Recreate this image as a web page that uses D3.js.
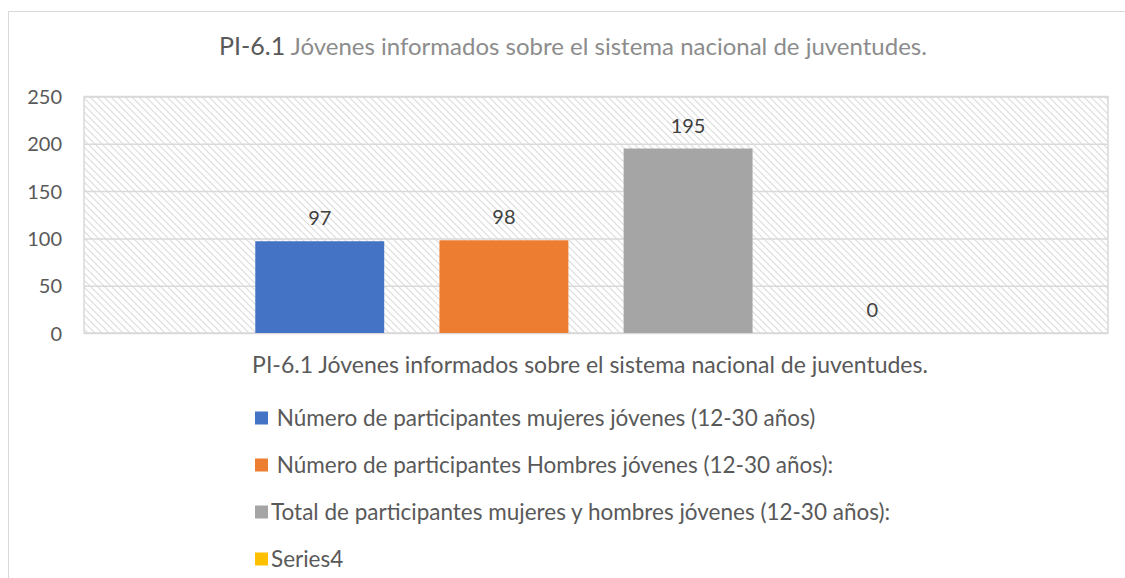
<!DOCTYPE html>
<html>
<head>
<meta charset="utf-8">
<script src="https://cdn.jsdelivr.net/npm/d3@7"></script>
<style>
  html, body { margin: 0; padding: 0; background: #fff; }
  svg { display: block; font-family: Lato, "Open Sans", sans-serif; }
</style>
</head>
<body>
<svg id="chart" width="1125" height="578"></svg>
<script>
// Chart data
const categories = ["PI-6.1 Jóvenes informados sobre el sistema nacional de juventudes."];
const seriesNames = [
  " Número de participantes mujeres jóvenes (12-30 años)",
  " Número de participantes Hombres jóvenes (12-30 años):",
  "Total de participantes mujeres y hombres jóvenes (12-30 años):",
  "Series4"
];
const seriesValues = [97, 98, 195, 0];
const seriesColors = ["#4472C4", "#ED7D31", "#A5A5A5", "#FFC000"];
const yTicks = [0, 50, 100, 150, 200, 250];
const titleCode = "PI-6.1";
const titleRest = " Jóvenes informados sobre el sistema nacional de juventudes.";

const svg = d3.select("#chart");
const W = 1125, H = 578;
const plot = { left: 84, right: 1108, top: 96.5, bottom: 333 };

// Chart frame (extends past the visible window on right and bottom)
svg.append("rect")
  .attr("x", 8.5).attr("y", 11.5)
  .attr("width", W + 20).attr("height", H + 20)
  .attr("fill", "#fff").attr("stroke", "#d9d9d9").attr("stroke-width", 1);

// Diagonal hatch for the plot background
const defs = svg.append("defs");
const pat = defs.append("pattern")
  .attr("id", "hatch").attr("patternUnits", "userSpaceOnUse")
  .attr("width", 7).attr("height", 7);
pat.append("rect").attr("width", 7).attr("height", 7).attr("fill", "#fff");
pat.append("path")
  .attr("d", "M-1,-1 L8,8 M-8,-1 L1,8 M6,-1 L15,8")
  .attr("stroke", "#dcdcdc").attr("stroke-width", 1.1);

// Scales
const x0 = d3.scaleBand().domain(categories).range([plot.left, plot.right]);
const x1 = d3.scaleBand().domain(seriesNames)
  .range([0, x0.bandwidth()]).paddingInner(0.3).paddingOuter(0.93);
const y = d3.scaleLinear().domain([0, 250]).range([plot.bottom, plot.top]);

// Plot area
svg.append("rect")
  .attr("x", plot.left).attr("y", plot.top)
  .attr("width", plot.right - plot.left).attr("height", plot.bottom - plot.top)
  .attr("fill", "url(#hatch)").attr("stroke", "#d9d9d9").attr("stroke-width", 1.5);

// Gridlines
svg.append("g")
  .attr("transform", `translate(${plot.left},0)`)
  .call(d3.axisLeft(y).tickValues(yTicks).tickSize(-(plot.right - plot.left)).tickFormat(""))
  .call(g => g.select(".domain").remove())
  .call(g => g.selectAll("line").attr("stroke", "#d9d9d9").attr("stroke-width", 1.5));

// Y axis labels
svg.append("g")
  .attr("transform", `translate(${plot.left - 22},0)`)
  .call(d3.axisLeft(y).tickValues(yTicks).tickSize(0).tickPadding(0))
  .call(g => g.select(".domain").remove())
  .call(g => g.selectAll("text")
    .attr("fill", "#595959").attr("font-size", "20px")
    .attr("font-family", "Lato, sans-serif").attr("dy", "0.35em"));

// Bars
const groups = svg.append("g").selectAll("g")
  .data(categories).join("g")
  .attr("transform", d => `translate(${x0(d)},0)`);

groups.selectAll("rect")
  .data(() => seriesNames.map((s, i) => ({ s, v: seriesValues[i], c: seriesColors[i] })))
  .join("rect")
  .attr("x", d => x1(d.s))
  .attr("y", d => y(d.v))
  .attr("width", x1.bandwidth())
  .attr("height", d => y(0) - y(d.v))
  .attr("fill", d => d.c);

// Value labels
groups.selectAll("text.val")
  .data(() => seriesNames.map((s, i) => ({ s, v: seriesValues[i] })))
  .join("text")
  .attr("class", "val")
  .attr("x", d => x1(d.s) + x1.bandwidth() / 2)
  .attr("y", d => y(d.v) - 16)
  .attr("text-anchor", "middle")
  .attr("fill", "#404040").attr("font-size", "20px")
  .text(d => d.v);

// Category axis label
svg.append("g").selectAll("text")
  .data(categories).join("text")
  .attr("x", d => x0(d) + x0.bandwidth() / 2 - 6)
  .attr("y", 373)
  .attr("text-anchor", "middle")
  .attr("fill", "#595959").attr("font-size", "23px")
  .text(d => d);

// Title
const title = svg.append("text")
  .attr("x", 573).attr("y", 55)
  .attr("text-anchor", "middle")
  .attr("font-size", "24px");
title.append("tspan").attr("fill", "#595959").attr("font-size", "25px").text(titleCode);
title.append("tspan").attr("fill", "#8c8c8c").text(titleRest);

// Legend
const legend = svg.append("g").attr("transform", "translate(255,0)");
const rowY = d3.scalePoint().domain(seriesNames).range([418, 559]);
const items = legend.selectAll("g").data(seriesNames).join("g")
  .attr("transform", d => `translate(0,${rowY(d)})`);
items.append("rect")
  .attr("x", 0).attr("y", -6.5).attr("width", 13).attr("height", 13)
  .attr("fill", (d, i) => seriesColors[i]);
items.append("text")
  .attr("x", 16).attr("y", 0).attr("dy", "0.35em")
  .attr("fill", "#595959").attr("font-size", "22.5px")
  .attr("xml:space", "preserve")
  .style("white-space", "pre")
  .text(d => d);
</script>
</body>
</html>
